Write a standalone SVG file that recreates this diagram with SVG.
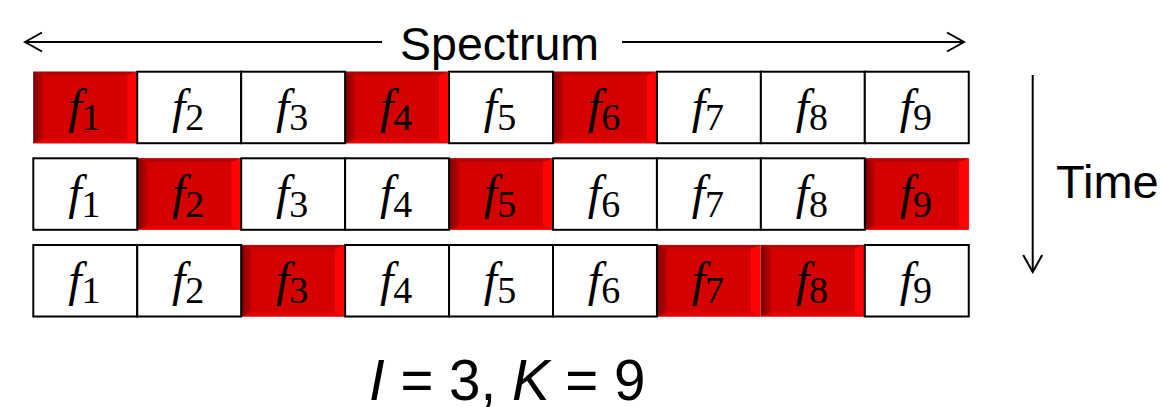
<svg xmlns="http://www.w3.org/2000/svg" xmlns:xlink="http://www.w3.org/1999/xlink" width="1160" height="407" viewBox="0 0 1160 407">
<style>
.cell{fill:#ffffff;stroke:#000000;stroke-width:2}
.f{font-family:"Liberation Serif","Times New Roman",serif;font-style:italic;font-size:48px;fill:#000;text-anchor:middle}
.s{font-style:normal;font-size:38px}
.lbl{font-family:"Liberation Sans",Arial,sans-serif;fill:#000}
.arr{stroke:#000;stroke-width:2;fill:none}
</style>
<defs>
<linearGradient id="gl" x1="0" y1="0" x2="1" y2="0">
<stop offset="0" stop-color="#7a0000"/>
<stop offset="1" stop-color="#c20000"/>
</linearGradient>
<g id="red">
<rect x="0" y="0" width="104" height="71.5" fill="#d50000" stroke="#b0b0b0" stroke-width="0.6"/>
<polygon points="0,0 104,0 94,3.5 10,3.5" fill="#b80000"/>
<polygon points="0,0 10,3.5 10,68 0,71.5" fill="url(#gl)"/>
<polygon points="104,0 104,71.5 94,68 94,3.5" fill="#ff0404"/>
<polygon points="0,71.5 104,71.5 94,68 10,68" fill="#e80000"/>
</g>
<marker id="ah" viewBox="0 0 20 22" refX="18" refY="11" markerWidth="20" markerHeight="22" markerUnits="userSpaceOnUse" orient="auto-start-reverse">
<path d="M1,1.5 L18,11 L1,20.5" fill="none" stroke="#000" stroke-width="2"/>
</marker>
</defs>

<g id="connectors">
<line class="arr" x1="25" y1="42" x2="382" y2="42" marker-start="url(#ah)"/>
<line class="arr" x1="622" y1="42" x2="964" y2="42" marker-end="url(#ah)"/>
<line class="arr" x1="1032.7" y1="75" x2="1032.7" y2="272" marker-end="url(#ah)"/>
</g>

<text id="spectrum" class="lbl" x="400" y="60" font-size="46.5">Spectrum</text>
<text id="time" class="lbl" x="1056" y="198.3" font-size="47">Time</text>
<text id="params" class="lbl" x="369" y="400" font-size="56.5"><tspan font-style="italic">I</tspan> = 3, <tspan font-style="italic">K</tspan> = 9</text>

<!-- Row 1 (red: 1,4,6) -->
<g id="r1f1"><use xlink:href="#red" x="33.3" y="71.7"/><text class="f" x="84.3" y="122.5">f<tspan class="s" dy="7.5">1</tspan></text></g>
<g id="r1f4"><use xlink:href="#red" x="345.12" y="71.7"/><text class="f" x="396.1" y="122.5">f<tspan class="s" dy="7.5">4</tspan></text></g>
<g id="r1f6"><use xlink:href="#red" x="553" y="71.7"/><text class="f" x="604" y="122.5">f<tspan class="s" dy="7.5">6</tspan></text></g>
<g id="r1f2"><rect class="cell" x="137.24" y="71.7" width="103.94" height="71.5"/><text class="f" x="188.2" y="122.5">f<tspan class="s" dy="7.5">2</tspan></text></g>
<g id="r1f3"><rect class="cell" x="241.18" y="71.7" width="103.94" height="71.5"/><text class="f" x="292.1" y="122.5">f<tspan class="s" dy="7.5">3</tspan></text></g>
<g id="r1f5"><rect class="cell" x="449.06" y="71.7" width="103.94" height="71.5"/><text class="f" x="500" y="122.5">f<tspan class="s" dy="7.5">5</tspan></text></g>
<g id="r1f7"><rect class="cell" x="656.94" y="71.7" width="103.94" height="71.5"/><text class="f" x="707.9" y="122.5">f<tspan class="s" dy="7.5">7</tspan></text></g>
<g id="r1f8"><rect class="cell" x="760.88" y="71.7" width="103.94" height="71.5"/><text class="f" x="811.8" y="122.5">f<tspan class="s" dy="7.5">8</tspan></text></g>
<g id="r1f9"><rect class="cell" x="864.82" y="71.7" width="103.94" height="71.5"/><text class="f" x="915.8" y="122.5">f<tspan class="s" dy="7.5">9</tspan></text></g>

<!-- Row 2 (red: 2,5,9) -->
<g id="r2f2"><use xlink:href="#red" x="137.24" y="158.3"/><text class="f" x="188.2" y="209.1">f<tspan class="s" dy="7.5">2</tspan></text></g>
<g id="r2f5"><use xlink:href="#red" x="449.06" y="158.3"/><text class="f" x="500" y="209.1">f<tspan class="s" dy="7.5">5</tspan></text></g>
<g id="r2f9"><use xlink:href="#red" x="864.82" y="158.3"/><text class="f" x="915.8" y="209.1">f<tspan class="s" dy="7.5">9</tspan></text></g>
<g id="r2f1"><rect class="cell" x="33.3" y="158.3" width="103.94" height="71.5"/><text class="f" x="84.3" y="209.1">f<tspan class="s" dy="7.5">1</tspan></text></g>
<g id="r2f3"><rect class="cell" x="241.18" y="158.3" width="103.94" height="71.5"/><text class="f" x="292.1" y="209.1">f<tspan class="s" dy="7.5">3</tspan></text></g>
<g id="r2f4"><rect class="cell" x="345.12" y="158.3" width="103.94" height="71.5"/><text class="f" x="396.1" y="209.1">f<tspan class="s" dy="7.5">4</tspan></text></g>
<g id="r2f6"><rect class="cell" x="553" y="158.3" width="103.94" height="71.5"/><text class="f" x="604" y="209.1">f<tspan class="s" dy="7.5">6</tspan></text></g>
<g id="r2f7"><rect class="cell" x="656.94" y="158.3" width="103.94" height="71.5"/><text class="f" x="707.9" y="209.1">f<tspan class="s" dy="7.5">7</tspan></text></g>
<g id="r2f8"><rect class="cell" x="760.88" y="158.3" width="103.94" height="71.5"/><text class="f" x="811.8" y="209.1">f<tspan class="s" dy="7.5">8</tspan></text></g>

<!-- Row 3 (red: 3,7,8) -->
<g id="r3f3"><use xlink:href="#red" x="241.18" y="245"/><text class="f" x="292.1" y="295.8">f<tspan class="s" dy="7.5">3</tspan></text></g>
<g id="r3f7"><use xlink:href="#red" x="656.94" y="245"/><text class="f" x="707.9" y="295.8">f<tspan class="s" dy="7.5">7</tspan></text></g>
<g id="r3f8"><use xlink:href="#red" x="760.88" y="245"/><text class="f" x="811.8" y="295.8">f<tspan class="s" dy="7.5">8</tspan></text></g>
<g id="r3f1"><rect class="cell" x="33.3" y="245" width="103.94" height="71.5"/><text class="f" x="84.3" y="295.8">f<tspan class="s" dy="7.5">1</tspan></text></g>
<g id="r3f2"><rect class="cell" x="137.24" y="245" width="103.94" height="71.5"/><text class="f" x="188.2" y="295.8">f<tspan class="s" dy="7.5">2</tspan></text></g>
<g id="r3f4"><rect class="cell" x="345.12" y="245" width="103.94" height="71.5"/><text class="f" x="396.1" y="295.8">f<tspan class="s" dy="7.5">4</tspan></text></g>
<g id="r3f5"><rect class="cell" x="449.06" y="245" width="103.94" height="71.5"/><text class="f" x="500" y="295.8">f<tspan class="s" dy="7.5">5</tspan></text></g>
<g id="r3f6"><rect class="cell" x="553" y="245" width="103.94" height="71.5"/><text class="f" x="604" y="295.8">f<tspan class="s" dy="7.5">6</tspan></text></g>
<g id="r3f9"><rect class="cell" x="864.82" y="245" width="103.94" height="71.5"/><text class="f" x="915.8" y="295.8">f<tspan class="s" dy="7.5">9</tspan></text></g>
</svg>
